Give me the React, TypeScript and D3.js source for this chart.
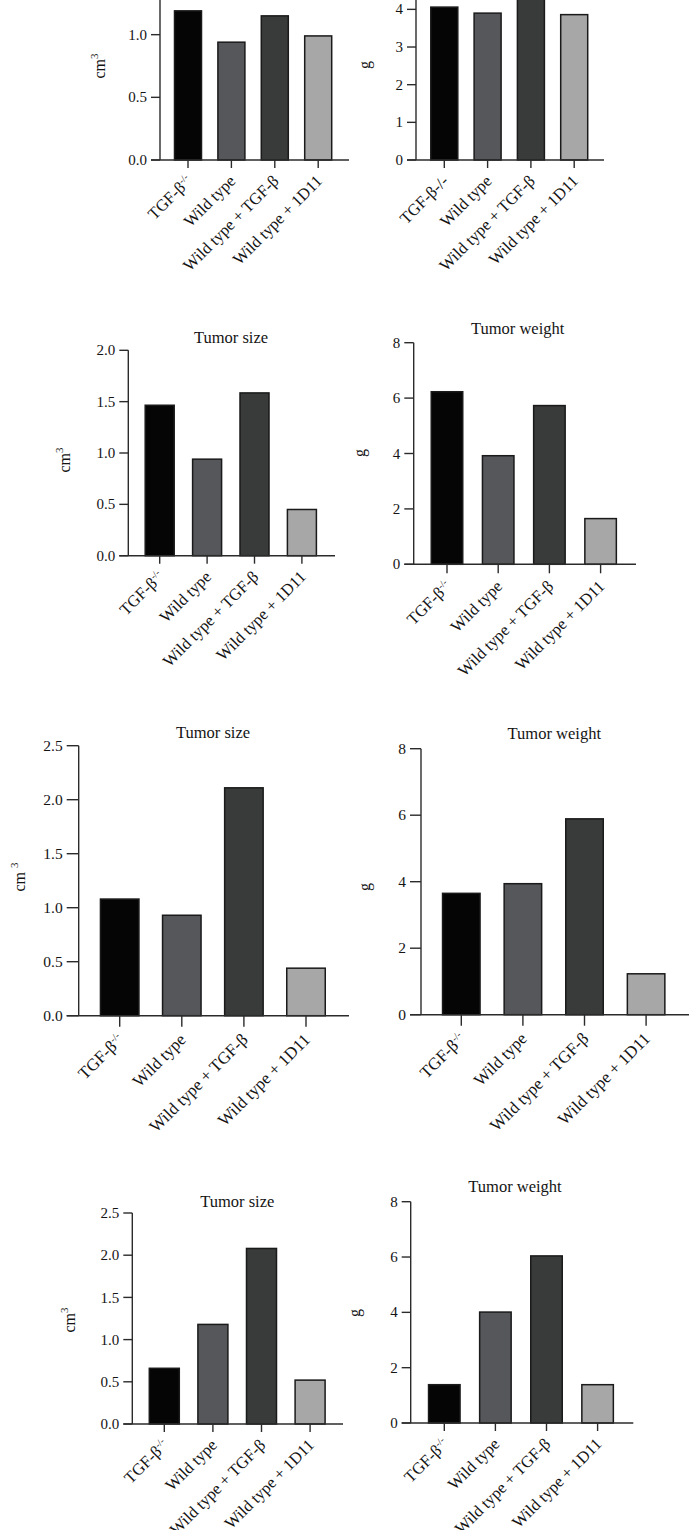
import React from "react";
import * as d3 from "d3";

// ---------- data ----------
const categories = ["TGF-β", "Wild type", "Wild type + TGF-β", "Wild type + 1D11"];
const categorySup = ["-/-", "", "", ""];

const sizeA = [1.19, 0.94, 1.15, 0.99];
const weightA = [4.06, 3.9, 4.27, 3.86];
const sizeB = [1.465, 0.94, 1.585, 0.45];
const weightB = [6.23, 3.92, 5.73, 1.65];
const sizeC = [1.08, 0.93, 2.11, 0.44];
const weightC = [3.65, 3.94, 5.89, 1.23];
const sizeD = [0.66, 1.18, 2.08, 0.52];
const weightD = [1.385, 4.01, 6.04, 1.385];

const ticksSize15 = [0, 0.5, 1.0, 1.5];
const ticksSize20 = [0, 0.5, 1.0, 1.5, 2.0];
const ticksSize25 = [0, 0.5, 1.0, 1.5, 2.0, 2.5];
const ticksWeight5 = [0, 1, 2, 3, 4, 5];
const ticksWeight8 = [0, 2, 4, 6, 8];

const titleSize = "Tumor size";
const titleWeight = "Tumor weight";

const barColors = ["#050505", "#56575b", "#393a3a", "#a7a7a7"];

// ---------- layout ----------
type Layout = {
  values: number[];
  ticks: number[];
  fmt: string;
  unit: "cm" | "g";
  unitGap?: boolean;
  title?: string;
  axisX: number;
  baseY: number;
  topY: number;
  firstCenter: number;
  step: number;
  barW: number;
  lineEnd: number;
  tickLen: number;
  xTickLen: number;
  titleX: number;
  titleY: number;
  labelX: number;
  labelY: number;
  inlineSup?: boolean;
  fs: number;
};

const panels: Layout[] = [
  { values: sizeA, ticks: ticksSize15, fmt: ".1f", unit: "cm", axisX: 160, baseY: 160, topY: -28, firstCenter: 188, step: 43.4, barW: 27, lineEnd: 349, tickLen: 9, xTickLen: 8, titleX: 0, titleY: 0, labelX: 100, labelY: 66, fs: 15 },
  { values: weightA, ticks: ticksWeight5, fmt: "d", unit: "g", inlineSup: true, axisX: 416, baseY: 160, topY: -28.3, firstCenter: 444.3, step: 43.3, barW: 27, lineEnd: 604, tickLen: 9, xTickLen: 8, titleX: 0, titleY: 0, labelX: 365, labelY: 65, fs: 15 },
  { values: sizeB, ticks: ticksSize20, fmt: ".1f", unit: "cm", title: titleSize, axisX: 128.3, baseY: 555.7, topY: 350.3, firstCenter: 159.7, step: 47.4, barW: 29, lineEnd: 335, tickLen: 9, xTickLen: 8, titleX: 231, titleY: 343, labelX: 65, labelY: 460, fs: 15 },
  { values: weightB, ticks: ticksWeight8, fmt: "d", unit: "g", title: titleWeight, axisX: 413.7, baseY: 564.3, topY: 342.7, firstCenter: 447, step: 51.2, barW: 31.5, lineEnd: 636, tickLen: 9.4, xTickLen: 9, titleX: 517.7, titleY: 334, labelX: 360, labelY: 453, fs: 15 },
  { values: sizeC, ticks: ticksSize25, fmt: ".1f", unit: "cm", unitGap: true, title: titleSize, axisX: 78.7, baseY: 1015.7, topY: 745.7, firstCenter: 119.7, step: 62.1, barW: 38.5, lineEnd: 349, tickLen: 12, xTickLen: 11, titleX: 213, titleY: 738, labelX: 20, labelY: 877, fs: 15.5 },
  { values: weightC, ticks: ticksWeight8, fmt: "d", unit: "g", title: titleWeight, axisX: 421, baseY: 1014.7, topY: 748.7, firstCenter: 461.3, step: 61.6, barW: 37.5, lineEnd: 689, tickLen: 11, xTickLen: 11, titleX: 554.3, titleY: 738.5, labelX: 365, labelY: 887, fs: 15.5 },
  { values: sizeD, ticks: ticksSize25, fmt: ".1f", unit: "cm", title: titleSize, axisX: 132.3, baseY: 1424, topY: 1213, firstCenter: 164.3, step: 48.6, barW: 30, lineEnd: 343, tickLen: 9, xTickLen: 8, titleX: 237.3, titleY: 1207, labelX: 70, labelY: 1320, fs: 15 },
  { values: weightD, ticks: ticksWeight8, fmt: "d", unit: "g", title: titleWeight, axisX: 410.7, baseY: 1423, topY: 1201.7, firstCenter: 444.3, step: 51.1, barW: 31.5, lineEnd: 633.3, tickLen: 9, xTickLen: 8, titleX: 515, titleY: 1192, labelX: 355, labelY: 1313, fs: 15 },
];

const FONT = "'Liberation Serif', 'Times New Roman', serif";
const AXIS = "#2b2b2b";
const TEXT = "#141414";

function Panel({ p }: { p: Layout }) {
  const yMax = p.ticks[p.ticks.length - 1];
  const y = d3.scaleLinear().domain([0, yMax]).range([p.baseY, p.topY]);
  const n = categories.length;
  const pad = 1 - p.barW / p.step;
  const x = d3
    .scaleBand<string>()
    .domain(categories)
    .range([p.firstCenter - p.step / 2, p.firstCenter - p.step / 2 + n * p.step])
    .paddingInner(pad)
    .paddingOuter(pad / 2);
  const fmt = d3.format(p.fmt);
  const tickLeft = p.axisX - p.tickLen;
  const visibleTicks = p.ticks.filter((t) => y(t) >= 6);
  const xfs = p.fs + 1.5;

  return (
    <g>
      {p.values.map((v, i) => (
        <rect
          key={i}
          x={x(categories[i])}
          y={y(v)}
          width={x.bandwidth()}
          height={p.baseY - y(v)}
          fill={barColors[i]}
          stroke="#1a1a1a"
          strokeWidth={1.5}
        />
      ))}
      <line x1={p.axisX} x2={p.axisX} y1={p.baseY} y2={Math.max(y(yMax), -2)} stroke={AXIS} strokeWidth={1.4} />
      <line x1={tickLeft} x2={p.lineEnd} y1={p.baseY} y2={p.baseY} stroke={AXIS} strokeWidth={1.4} />
      {visibleTicks.map((t) => (
        <g key={t}>
          <line x1={tickLeft} x2={p.axisX} y1={y(t)} y2={y(t)} stroke={AXIS} strokeWidth={1.4} />
          <text
            x={tickLeft - 4}
            y={y(t)}
            dy="0.34em"
            textAnchor="end"
            fontSize={p.fs}
            fontFamily={FONT}
            fill={TEXT}
          >
            {fmt(t)}
          </text>
        </g>
      ))}
      {categories.map((c, i) => {
        const cx = (x(c) as number) + x.bandwidth() / 2;
        const ax = cx + 5;
        const ay = p.baseY + p.xTickLen + 14;
        return (
          <g key={c}>
            <line x1={cx} x2={cx} y1={p.baseY} y2={p.baseY + p.xTickLen} stroke={AXIS} strokeWidth={1.4} />
            <text
              transform={`translate(${ax},${ay}) rotate(-45)`}
              textAnchor="end"
              fontSize={xfs}
              fontFamily={FONT}
              fill={TEXT}
            >
              {categorySup[i] ? (
                p.inlineSup ? (
                  c + categorySup[i]
                ) : (
                  <>
                    {c}
                    <tspan fontSize={xfs * 0.6} dy={-xfs * 0.36}>
                      {categorySup[i]}
                    </tspan>
                  </>
                )
              ) : (
                c
              )}
            </text>
          </g>
        );
      })}
      {p.title && (
        <text x={p.titleX} y={p.titleY} textAnchor="middle" fontSize={16.5} fontFamily={FONT} fill={TEXT}>
          {p.title}
        </text>
      )}
      <text
        transform={`translate(${p.labelX},${p.labelY}) rotate(-90)`}
        textAnchor="middle"
        dy="0.34em"
        fontSize={16}
        fontFamily={FONT}
        fill={TEXT}
      >
        {p.unit === "cm" ? (
          <>
            {p.unitGap ? "cm " : "cm"}
            <tspan fontSize={11} dy={-7}>
              3
            </tspan>
          </>
        ) : (
          "g"
        )}
      </text>
    </g>
  );
}

export default function App() {
  return (
    <svg
      width={689}
      height={1530}
      style={{ position: "absolute", left: 0, top: 0, background: "#fff" }}
    >
      <rect width={689} height={1530} fill="#fff" />
      {panels.map((p, i) => (
        <Panel key={i} p={p} />
      ))}
    </svg>
  );
}
